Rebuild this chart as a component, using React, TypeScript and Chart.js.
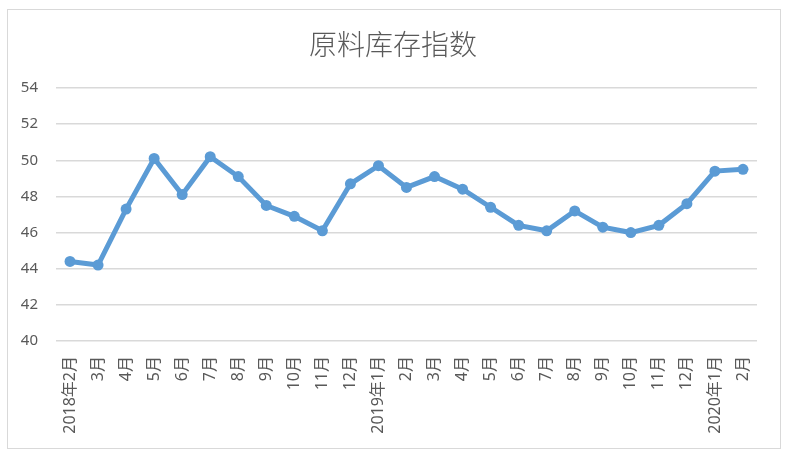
import React, { useEffect, useRef } from "react";
import { Chart, registerables } from "chart.js";

Chart.register(...registerables);

const categories: string[] = [
  "2018年2月", "3月", "4月", "5月", "6月", "7月", "8月", "9月", "10月", "11月", "12月",
  "2019年1月", "2月", "3月", "4月", "5月", "6月", "7月", "8月", "9月", "10月", "11月", "12月",
  "2020年1月", "2月",
];

const inventoryIndex: number[] = [
  44.4, 44.2, 47.3, 50.1, 48.1, 50.2, 49.1, 47.5, 46.9, 46.1, 48.7,
  49.7, 48.5, 49.1, 48.4, 47.4, 46.4, 46.1, 47.2, 46.3, 46.0, 46.4, 47.6,
  49.4, 49.5,
];

const yMin = 40;
const yMax = 54;
const yStep = 2;

const titleText = "原料库存指数";

const TITLE_FONT = "'Noto Sans CJK SC', sans-serif";
const TICK_FONT = "'Noto Sans', 'Noto Sans CJK SC', sans-serif";

const titlePlugin = {
  id: "centeredTitle",
  afterDraw(chart: any) {
    const ctx = chart.ctx;
    ctx.save();
    ctx.fillStyle = "#595959";
    ctx.font = `300 28px ${TITLE_FONT}`;
    ctx.textAlign = "center";
    ctx.textBaseline = "middle";
    ctx.fillText(titleText, 393, 44);
    ctx.restore();
  },
};

export default function App() {
  const canvasRef = useRef<HTMLCanvasElement | null>(null);

  useEffect(() => {
    const canvas = canvasRef.current;
    if (!canvas) return;
    const chart = new Chart(canvas, {
      type: "line",
      data: {
        labels: categories,
        datasets: [
          {
            label: titleText,
            data: inventoryIndex,
            borderColor: "#5b9bd5",
            backgroundColor: "#5b9bd5",
            borderWidth: 5,
            pointRadius: 5.5,
            pointBackgroundColor: "#5b9bd5",
            pointBorderColor: "#5b9bd5",
            pointBorderWidth: 0,
            tension: 0,
          },
        ],
      },
      options: {
        responsive: false,
        animation: false,
        layout: { padding: { left: 0, right: 32, top: 88, bottom: 0 } },
        plugins: {
          legend: { display: false },
          tooltip: { enabled: false },
          title: { display: false },
        },
        scales: {
          x: {
            type: "category",
            offset: true,
            grid: { display: false, drawTicks: false },
            border: { display: false },
            ticks: {
              color: "#595959",
              font: { family: TICK_FONT, size: 16 },
              minRotation: 90,
              maxRotation: 90,
              autoSkip: false,
              padding: 15,
            },
            afterFit: (scale: any) => {
              scale.height = 116;
            },
          },
          y: {
            min: yMin,
            max: yMax,
            grid: { color: "#d9d9d9", lineWidth: 1.5, drawTicks: false },
            border: { display: false },
            ticks: {
              stepSize: yStep,
              color: "#595959",
              font: { family: TICK_FONT, size: 15 },
              padding: 18,
            },
            afterFit: (scale: any) => {
              scale.width = 56;
            },
          },
        },
      },
      plugins: [titlePlugin],
    });
    return () => chart.destroy();
  }, []);

  return (
    <div
      style={{
        position: "fixed",
        left: 0,
        top: 0,
        width: 789,
        height: 457,
        background: "#ffffff",
      }}
    >
      <div
        style={{
          position: "absolute",
          left: 7,
          top: 9,
          width: 772,
          height: 438,
          border: "1.5px solid #d9d9d9",
        }}
      />
      <canvas
        ref={canvasRef}
        width={789}
        height={457}
        style={{ position: "absolute", left: 0, top: 0, width: 789, height: 457 }}
      />
    </div>
  );
}
